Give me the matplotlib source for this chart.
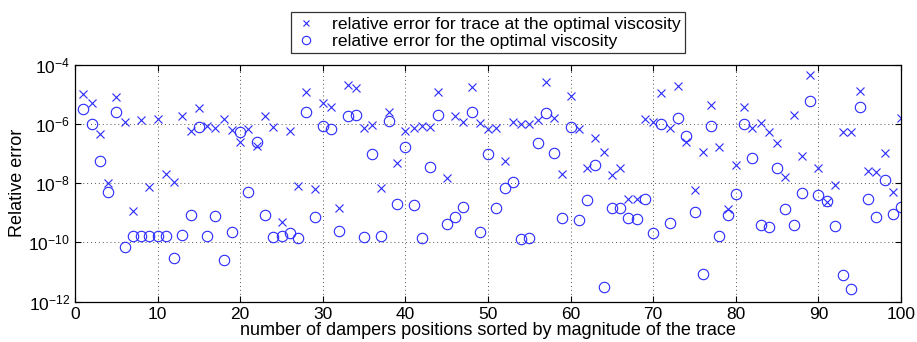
import numpy as np
import matplotlib
matplotlib.use('Agg')
import matplotlib.pyplot as plt
from matplotlib.ticker import FixedLocator, FuncFormatter, NullLocator

plt.rcParams['font.family'] = ['Liberation Sans', 'DejaVu Sans']
plt.rcParams['mathtext.fontset'] = 'custom'
plt.rcParams['mathtext.rm'] = 'Liberation Sans'
plt.rcParams['mathtext.it'] = 'Liberation Sans'
plt.rcParams['mathtext.bf'] = 'Liberation Sans'

# damper position index (sorted by magnitude of the trace)
positions = np.arange(1, 101)

# log10 of the relative error for the trace at the optimal viscosity
trace_err_exp = [
    -4.99, -5.30, -6.34, -7.98, -5.08, -5.92, -8.94, -5.87, -8.12, -5.83,
    -7.69, -7.97, -5.73, -6.24, -5.45, -6.07, -6.15, -5.84, -6.22, -6.60,
    -6.17, -6.73, -5.72, -6.09, -9.30, -6.24, -8.08, -4.91, -8.20, -5.30,
    -5.42, -8.83, -4.69, -4.80, -6.15, -6.03, -8.15, -5.59, -7.33, -6.25,
    -6.15, -6.06, -6.09, -4.91, -7.81, -5.75, -5.92, -4.74, -5.98, -6.17,
    -6.15, -7.25, -5.95, -6.01, -6.01, -5.87, -4.57, -5.81, -7.69, -5.05,
    -6.17, -7.50, -6.46, -6.96, -7.72, -7.50, -8.53, -8.53, -5.83, -5.92,
    -4.97, -6.13, -4.71, -6.62, -8.23, -6.94, -5.36, -6.79, -8.87, -7.39,
    -5.44, -6.13, -5.98, -6.26, -6.63, -7.78, -5.70, -7.07, -4.35, -7.50,
    -8.65, -8.06, -6.29, -6.29, -4.89, -7.58, -7.61, -6.97, -8.29, -5.79,
]

# log10 of the relative error for the optimal viscosity
visc_err_exp = [
    -5.50, -6.01, -7.25, -8.29, -5.61, -10.16, -9.78, -9.80, -9.80, -9.78,
    -9.80, -10.54, -9.76, -9.07, -6.09, -9.78, -9.12, -10.59, -9.66, -6.29,
    -8.29, -6.60, -9.07, -9.82, -9.80, -9.69, -9.84, -5.59, -9.15, -6.06,
    -6.17, -9.60, -5.75, -5.70, -9.83, -7.00, -9.78, -5.90, -8.71, -6.79,
    -8.74, -9.84, -7.44, -5.70, -9.39, -9.13, -8.81, -5.61, -9.66, -7.00,
    -8.85, -8.17, -7.95, -9.89, -9.86, -6.65, -5.64, -6.99, -9.19, -6.09,
    -9.26, -8.58, -7.39, -11.49, -8.83, -8.83, -9.19, -9.21, -8.53, -9.68,
    -6.01, -9.35, -5.79, -6.40, -8.98, -11.08, -6.06, -9.80, -9.07, -8.38,
    -6.00, -7.16, -9.41, -9.47, -7.50, -8.87, -9.41, -8.34, -5.23, -8.40,
    -8.60, -9.43, -11.10, -11.58, -5.42, -8.53, -9.15, -7.89, -9.04, -8.81,
]

trace_err = 10.0 ** np.array(trace_err_exp)
visc_err = 10.0 ** np.array(visc_err_exp)

xticks = [0, 10, 20, 30, 40, 50, 60, 70, 80, 90, 100]
yticks = [1e-12, 1e-10, 1e-8, 1e-6, 1e-4]

fig = plt.figure(figsize=(9.17, 3.42), dpi=100)
ax = fig.add_axes([0.0818, 0.118, 0.9008, 0.693])

ax.semilogy(positions, trace_err, 'x', color='#2a2aff', markersize=5.5,
            markeredgewidth=0.8, label='relative error for trace at the optimal viscosity')
ax.semilogy(positions, visc_err, 'o', color='#2a2aff', markersize=7.5,
            markerfacecolor='none', markeredgewidth=0.8,
            label='relative error for the optimal viscosity')

ax.set_xlim(0, 100)
ax.set_ylim(1e-12, 1e-4)
ax.xaxis.set_major_locator(FixedLocator(xticks))
ax.yaxis.set_major_locator(FixedLocator(yticks))
ax.yaxis.set_minor_locator(NullLocator())
ax.yaxis.set_major_formatter(FuncFormatter(lambda v, p: r'$10^{%d}$' % round(np.log10(v))))
ax.tick_params(direction='in', top=True, right=True, labelsize=12.5, length=4, width=0.8)
ax.grid(True, linestyle=(0, (1, 3)), color='#555555', linewidth=0.7)
for s in ax.spines.values():
    s.set_linewidth(0.9)

ax.set_xlabel('number of dampers positions sorted by magnitude of the trace', fontsize=13, labelpad=0)
ax.set_ylabel('Relative error', fontsize=13)
ax.yaxis.set_label_coords(-0.059, 0.5)

leg = ax.legend(loc='lower center', bbox_to_anchor=(0.5, 1.049), fontsize=12.6,
                frameon=True, fancybox=False, edgecolor='black', borderpad=0.25,
                handlelength=1.2, handletextpad=0.9, labelspacing=0.1,
                borderaxespad=0, markerscale=0.8)
leg.get_frame().set_linewidth(0.9)

fig.savefig('out.png', dpi=100)
